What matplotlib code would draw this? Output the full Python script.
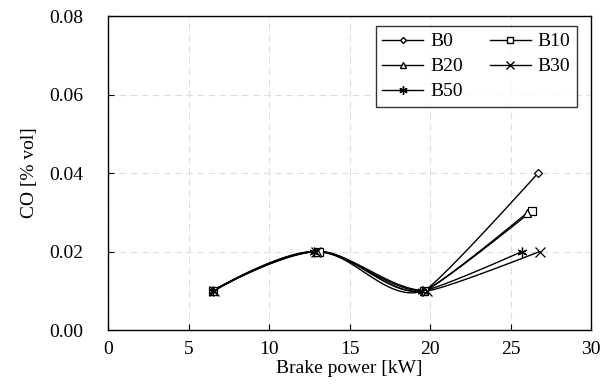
import numpy as np
import matplotlib
matplotlib.use('Agg')
import matplotlib.pyplot as plt
from matplotlib.lines import Line2D

plt.rcParams['font.family'] = ['Liberation Serif', 'DejaVu Serif']

# brake power [kW] and CO [% vol] for each blend
labels = ['B0', 'B10', 'B20', 'B30', 'B50']
power = {
    'B0': [6.5, 13.0, 19.6, 26.7],
    'B10': [6.5, 13.1, 19.6, 26.3],
    'B20': [6.5, 13.0, 19.6, 26.0],
    'B30': [6.6, 12.9, 19.8, 26.8],
    'B50': [6.5, 12.8, 19.5, 25.7],
}
co = {
    'B0': [0.010, 0.020, 0.010, 0.040],
    'B10': [0.010, 0.020, 0.010, 0.0303],
    'B20': [0.010, 0.020, 0.010, 0.0298],
    'B30': [0.010, 0.020, 0.010, 0.020],
    'B50': [0.010, 0.020, 0.010, 0.020],
}
markers = {'B0': 'D', 'B10': 's', 'B20': '^', 'B30': 'x', 'B50': (6, 2, 0)}
msize = {'B0': 4, 'B10': 6, 'B20': 6, 'B30': 7, 'B50': 7}


def smooth(x, y, n=30):
    # Excel-like smoothed line: Bezier through the points,
    # end control points sit on the end points
    pts = np.column_stack([x, y]).astype(float)
    k = len(pts)
    t = np.linspace(0, 1, n)[:, None]
    out = []
    for i in range(k - 1):
        p0, p3 = pts[i], pts[i + 1]
        # shorter handle into the last, long segment so it stays nearly straight
        f = 0.35 if i == k - 2 else 1.0
        p1 = p0 if i == 0 else p0 + f * (pts[i + 1] - pts[i - 1]) / 6
        p2 = p3 if i == k - 2 else p3 - (pts[i + 2] - pts[i]) / 6
        out.append((1 - t) ** 3 * p0 + 3 * (1 - t) ** 2 * t * p1
                   + 3 * (1 - t) * t ** 2 * p2 + t ** 3 * p3)
    out = np.vstack(out)
    return out[:, 0], out[:, 1]


fig = plt.figure(figsize=(6.14, 3.91), dpi=100)
ax = fig.add_axes([0.176, 0.156, 0.787, 0.803])

for lab in labels:
    sx, sy = smooth(power[lab], co[lab])
    ax.plot(sx, sy, color='black', lw=1.0, zorder=3)
    ax.plot(power[lab], co[lab], linestyle='none', marker=markers[lab],
            markersize=msize[lab], markerfacecolor='white', markeredgecolor='black',
            markeredgewidth=0.9, zorder=4)

ax.set_xlim(0, 30)
ax.set_ylim(0, 0.08)
ax.set_xticks(np.arange(0, 31, 5))
ax.set_yticks(np.arange(0, 0.081, 0.02))
ax.set_yticklabels(['%.2f' % v for v in np.arange(0, 0.081, 0.02)])
ax.grid(True, color='#dddddd', linestyle=(0, (6, 4)), lw=0.8)
ax.set_axisbelow(True)
ax.tick_params(direction='in', length=4, labelsize=14, color='black')
ax.tick_params(axis='x', pad=8)
ax.tick_params(axis='y', pad=18)
for s in ax.spines.values():
    s.set_linewidth(1.0)
ax.set_xlabel('Brake power [kW]', fontsize=14, labelpad=1)
ax.set_ylabel('CO [% vol]', fontsize=14, labelpad=8)

# legend is filled row by row in the reference
order = ['B0', 'B20', 'B50', 'B10', 'B30']
handles = [Line2D([], [], color='black', lw=1.0, marker=markers[l], markersize=msize[l] - 1,
                  markerfacecolor='white', markeredgecolor='black') for l in order]
leg = ax.legend(handles, order, ncol=2, loc='upper right', bbox_to_anchor=(0.971, 0.968),
                borderaxespad=0, fontsize=14, frameon=True, fancybox=False, edgecolor='black',
                handlelength=2.1, handletextpad=0.35, columnspacing=1.4,
                labelspacing=0.38, borderpad=0.35)
leg.get_frame().set_linewidth(1.0)

fig.savefig('out.png', dpi=100)
